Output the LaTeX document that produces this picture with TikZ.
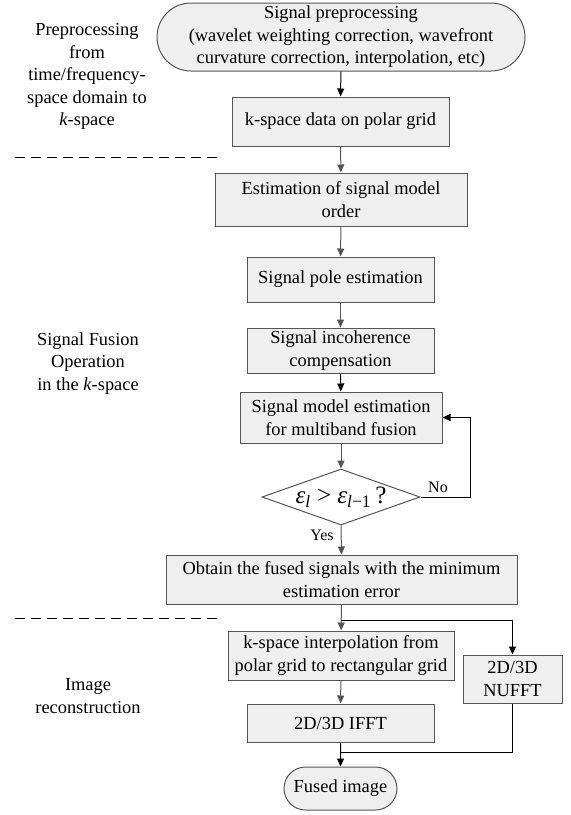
\documentclass[tikz,border=0pt]{standalone}
\usepackage{fontspec}
\setmainfont{LiberationSerif}[Extension=.ttf, UprightFont=*-Regular, ItalicFont=*-Italic, BoldFont=*-Bold, BoldItalicFont=*-BoldItalic]
\usetikzlibrary{shapes.misc,shapes.geometric,arrows.meta}
\definecolor{boxfill}{HTML}{EFEFEF}
\definecolor{edge}{HTML}{555555}
\begin{document}
\begin{tikzpicture}[x=1pt,y=-1pt,
  font=\fontsize{18.4}{22.5}\selectfont,
  box/.style={draw=edge, line width=1pt, fill=boxfill, inner sep=0pt, align=center},
  term/.style={box, rounded rectangle},
  lbl/.style={align=center, inner sep=0pt},
  garrow/.style={draw=edge, line width=1pt, -{Triangle[length=8pt,width=7pt]}},
  karrow/.style={draw=black, line width=1pt, -{Triangle[length=8pt,width=7pt]}},
  kline/.style={draw=black, line width=1pt},
  sep/.style={draw=black, line width=1pt, dash pattern=on 10pt off 6pt}
]
\useasboundingbox (0,0) rectangle (571,815);

\node[term, minimum width=368pt, minimum height=68pt] (pre) at (341,37)
  {Signal preprocessing\\(wavelet weighting correction, wavefront\\curvature correction, interpolation, etc)};
\node[box, minimum width=217pt, minimum height=49pt] (kspace) at (340.5,121.5) {k-space data on polar grid};
\node[box, minimum width=252pt, minimum height=53pt] (est) at (341,199.5) {Estimation of signal model\\order};
\node[box, minimum width=187pt, minimum height=45pt] (pole) at (340.5,279.5) {Signal pole estimation};
\node[box, minimum width=187pt, minimum height=45pt] (incoh) at (340.5,350.5) {Signal incoherence\\compensation};
\node[box, minimum width=202pt, minimum height=51pt] (model) at (341,417.5) {Signal model estimation\\for multiband fusion};
\node[box, diamond, aspect=2.8, fill=white, minimum width=158pt, minimum height=56pt] (dec) at (341,497)
  {\fontsize{25}{26}\selectfont\textit{ε}\textsubscript{\textit{l}} > \textit{ε}\textsubscript{\textit{l}−1}\,?};
\node[box, minimum width=351pt, minimum height=49pt] (obt) at (341.5,579.5) {Obtain the fused signals with the minimum\\estimation error};
\node[box, minimum width=226pt, minimum height=49pt] (interp) at (341,655.5) {k-space interpolation from\\polar grid to rectangular grid};
\node[box, minimum width=99pt, minimum height=48pt] (nufft) at (512.5,679) {2D/3D\\NUFFT};
\node[box, minimum width=187pt, minimum height=38pt] (ifft) at (340.5,723) {2D/3D IFFT};
\node[term, minimum width=113pt, minimum height=43pt] (fused) at (340.5,788.5) {Fused image};

% side labels
\node[lbl] (l1) at (87,76.5) {Preprocessing\\from\\time/frequency-\\space domain to\\\textit{k}-space};
\node[lbl] (l2) at (88,363.5) {Signal Fusion\\Operation\\in the \textit{k}-space};
\node[lbl] (l3) at (88,696) {Image\\reconstruction};

% separators
\coordinate (s1a) at (15,157); \coordinate (s1b) at (217,157);
\coordinate (s2a) at (15,618); \coordinate (s2b) at (217,618);
\draw[sep] (s1a) -- (s1b);
\draw[sep] (s2a) -- (s2b);

% connectors
\draw[karrow] (pre) -- (kspace);
\draw[garrow] (kspace) -- (est);
\draw[garrow] (est) -- (pole);
\draw[garrow] (pole) -- (incoh);
\draw[karrow] (incoh) -- (model);
\draw[garrow] (model) -- (dec);
\coordinate (fb1) at (470,497);
\coordinate (fb2) at (470,417.5);
\draw[karrow] (dec.east) -- (fb1) -- (fb2) -- (model.east);
\node[lbl, font=\fontsize{16}{18}\selectfont] (no) at (438,487) {No};
\draw[garrow] (dec.south) -- (obt.north);
\node[lbl, font=\fontsize{16}{18}\selectfont] (yes) at (322,535) {Yes};
\draw[garrow] (obt) -- (interp);
\coordinate (br) at (341,620);
\coordinate (brr) at (512.5,620);
\draw[karrow] (br) -- (brr) -- (nufft.north);
\draw[garrow] (interp) -- (ifft);
\draw[karrow] (ifft) -- (fused);
\coordinate (mg) at (512.5,752);
\coordinate (ml) at (340.5,752);
\draw[kline] (nufft.south) -- (mg) -- (ml);
\end{tikzpicture}
\end{document}
